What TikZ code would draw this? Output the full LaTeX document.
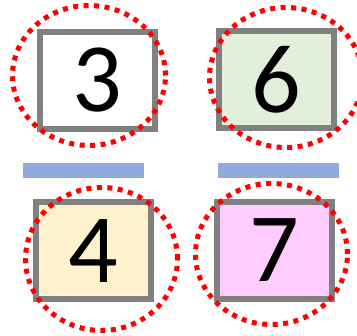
\documentclass[tikz,border=0pt]{standalone}
\usepackage{fontspec}
\setmainfont{Carlito}
\usepackage{xcolor}
\usetikzlibrary{shapes.geometric}
\definecolor{cframe}{HTML}{808080}
\definecolor{cwhite}{HTML}{FFFFFF}
\definecolor{cgreen}{HTML}{E2EFDA}
\definecolor{cyellow}{HTML}{FFF2CC}
\definecolor{cpink}{HTML}{FFCCFF}
\definecolor{cbar}{HTML}{8FAADC}
\definecolor{cring}{HTML}{FF0000}

\tikzset{
  numbox/.style={draw=cframe,line width=6pt,minimum width=115pt,minimum height=97pt,
    inner sep=0pt,font=\fontsize{98}{100}\selectfont},
  ring/.style={draw=cring,ellipse,line width=5pt,dash pattern=on 5pt off 5.5pt,inner sep=0pt},
  sepbar/.style={fill=cbar,minimum width=121pt,minimum height=15pt,inner sep=0pt}
}

\begin{document}
\begin{tikzpicture}[x=1pt,y=-1pt]
  \useasboundingbox (0,0) rectangle (357,336);
  % boxes
  \node[numbox,fill=cwhite] (b3) at (97,80.5) {3};
  \node[numbox,fill=cgreen] (b6) at (276.5,80) {6};
  \node[numbox,fill=cyellow] (b4) at (93.5,251) {4};
  \node[numbox,fill=cpink] (b7) at (274.5,250.5) {7};
  % separators
  \node[sepbar] (s1) at (83.5,170.5) {};
  \node[sepbar] (s2) at (278.5,170.5) {};
  % rings
  \node[ring,minimum width=153pt,minimum height=140pt] (r3) at (89,75.5) {};
  \node[ring,minimum width=153pt,minimum height=140pt] (r6) at (286,77.5) {};
  \node[ring,minimum width=152pt,minimum height=143pt] (r4) at (101.5,259) {};
  \node[ring,minimum width=152pt,minimum height=141pt] (r7) at (271.5,254) {};
\end{tikzpicture}
\end{document}
